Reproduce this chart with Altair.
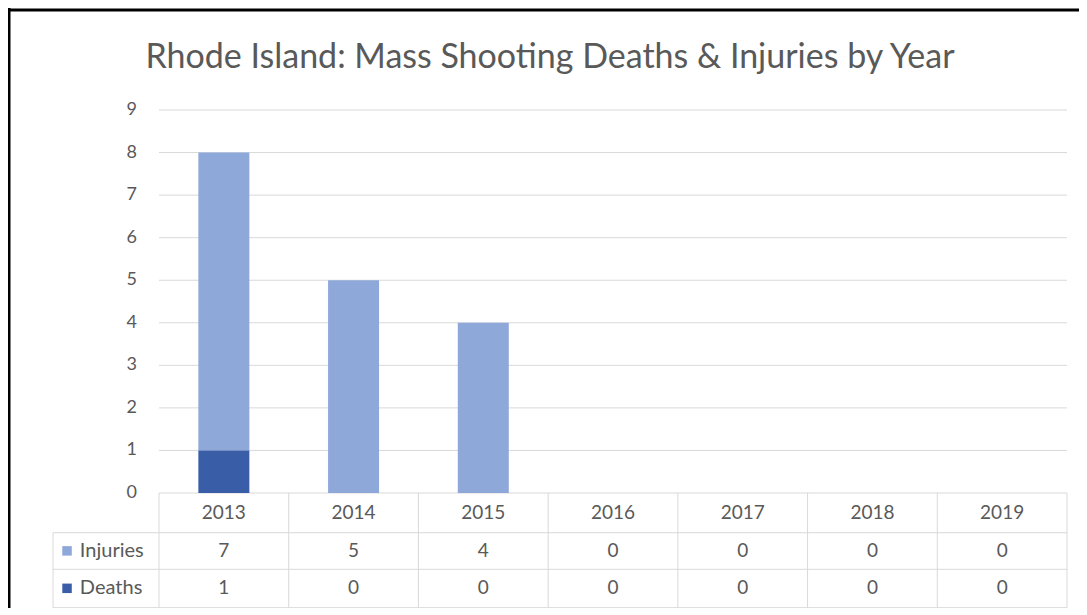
import altair as alt
import pandas as pd

# ---------------- data ----------------
years = [2013, 2014, 2015, 2016, 2017, 2018, 2019]
injuries = [7, 5, 4, 0, 0, 0, 0]
deaths = [1, 0, 0, 0, 0, 0, 0]
series = ["Injuries", "Deaths"]
y_ticks = [0, 1, 2, 3, 4, 5, 6, 7, 8, 9]
chart_title = "Rhode Island: Mass Shooting Deaths & Injuries by Year"

# ---------------- styles / layout ----------------
COL_INJ = "#8EA8D9"
COL_DEA = "#3A5DA8"
TXT = "#595959"
GRID = "#D9D9D9"
FONT = "Lato"

X0, X1 = years[0] - 0.5, years[-1] + 0.5      # plot columns
HDR_LEFT = X0 - 0.817                            # left edge of row-label column
SQ_X = X0 - 0.709                                # legend square
LBL_X = X0 - 0.61                                # row label text start
ROW_HDR_MID = -0.47
ROW1 = -0.933
ROW_INJ_MID = -1.36
ROW2 = -1.793
ROW_DEA_MID = -2.24
BOTTOM = -2.695

xs = alt.Scale(domain=[X0, X1], range=[151, 1059], zero=False, nice=False, padding=0)
ys = alt.Scale(domain=[0, 9], range=[485, 102], zero=False, nice=False, padding=0)

def X(v):
    return alt.X(v, scale=xs, axis=None) if isinstance(v, str) else alt.X(datum=v, scale=xs, axis=None)

def Y(v):
    return alt.Y(v, scale=ys, axis=None) if isinstance(v, str) else alt.Y(datum=v, scale=ys, axis=None)

# ---------------- tables ----------------
bars_df = pd.DataFrame({
    "year": years * 2,
    "series": ["Injuries"] * len(years) + ["Deaths"] * len(years),
    "value": injuries + deaths,
})
ticks_df = pd.DataFrame({"tick": y_ticks})
bounds_df = pd.DataFrame({"xb": [y - 0.5 for y in years] + [years[-1] + 0.5]})
hlines_df = pd.DataFrame({"yl": [ROW1, ROW2, BOTTOM]})
years_df = pd.DataFrame({"year": years})
cells_df = pd.DataFrame({
    "year": years * 2,
    "value": injuries + deaths,
    "row": [ROW_INJ_MID] * len(years) + [ROW_DEA_MID] * len(years),
})
rows_df = pd.DataFrame({"series": series, "row": [ROW_INJ_MID, ROW_DEA_MID]})

color_scale = alt.Scale(domain=series, range=[COL_INJ, COL_DEA])

# grid lines (0..9)
grid = alt.Chart(ticks_df).mark_rule(color=GRID, strokeWidth=1).encode(
    y=Y("tick:Q"), x=X(X0), x2=alt.X2(datum=X1)
)
ylabels = alt.Chart(ticks_df).mark_text(
    align="right", baseline="middle", dx=-22, fontSize=18, font=FONT, color=TXT
).encode(y=Y("tick:Q"), x=X(X0), text="tick:Q")

bars = alt.Chart(bars_df).transform_calculate(
    ord="datum.series === 'Deaths' ? 0 : 1"
).mark_bar(size=51).encode(
    x=X("year:Q"),
    y=alt.Y("value:Q", stack="zero", scale=ys, axis=None),
    color=alt.Color("series:N", scale=color_scale, legend=None),
    order=alt.Order("ord:Q"),
)

# data table
vlines = alt.Chart(bounds_df).mark_rule(color=GRID, strokeWidth=1).encode(
    x=X("xb:Q"), y=Y(0), y2=alt.Y2(datum=BOTTOM)
)
vleft = alt.Chart(ticks_df.head(1)).mark_rule(color=GRID, strokeWidth=1).encode(
    x=X(HDR_LEFT), y=Y(ROW1), y2=alt.Y2(datum=BOTTOM)
)
hlines = alt.Chart(hlines_df).mark_rule(color=GRID, strokeWidth=1).encode(
    y=Y("yl:Q"), x=X(HDR_LEFT), x2=alt.X2(datum=X1)
)
year_text = alt.Chart(years_df).mark_text(
    baseline="middle", fontSize=19, font=FONT, color=TXT
).encode(x=X("year:Q"), y=Y(ROW_HDR_MID), text="year:N")
cell_text = alt.Chart(cells_df).mark_text(
    baseline="middle", fontSize=19, font=FONT, color=TXT
).encode(x=X("year:Q"), y=Y("row:Q"), text="value:Q")
row_squares = alt.Chart(rows_df).mark_point(
    shape="square", filled=True, size=90, opacity=1
).encode(
    x=X(SQ_X), y=Y("row:Q"),
    color=alt.Color("series:N", scale=color_scale, legend=None),
)
row_text = alt.Chart(rows_df).mark_text(
    align="left", baseline="middle", fontSize=20, font=FONT, color=TXT
).encode(x=X(LBL_X), y=Y("row:Q"), text="series:N")

title = alt.Chart(pd.DataFrame({"t": [chart_title]})).mark_text(
    align="center", baseline="middle", fontSize=34, font=FONT, color=TXT
).encode(x=alt.value(542), y=alt.value(50), text="t:N")

frame_left = alt.Chart(ticks_df.head(1)).mark_rule(color="black", strokeWidth=3).encode(
    x=alt.value(1), y=alt.value(0), y2=alt.value(600)
)
frame_top = alt.Chart(ticks_df.head(1)).mark_rule(color="black", strokeWidth=3).encode(
    y=alt.value(2), x=alt.value(0), x2=alt.value(1071)
)

chart = alt.layer(
    grid, vlines, vleft, hlines, bars, ylabels, year_text, cell_text,
    row_squares, row_text, title, frame_left, frame_top
).properties(
    width=1071, height=600,
    autosize=alt.AutoSizeParams(type="none"),
    padding=0,
    background="white",
).configure_view(stroke=None)

chart.save("out.html", embed_options={"renderer": "svg", "actions": False})
